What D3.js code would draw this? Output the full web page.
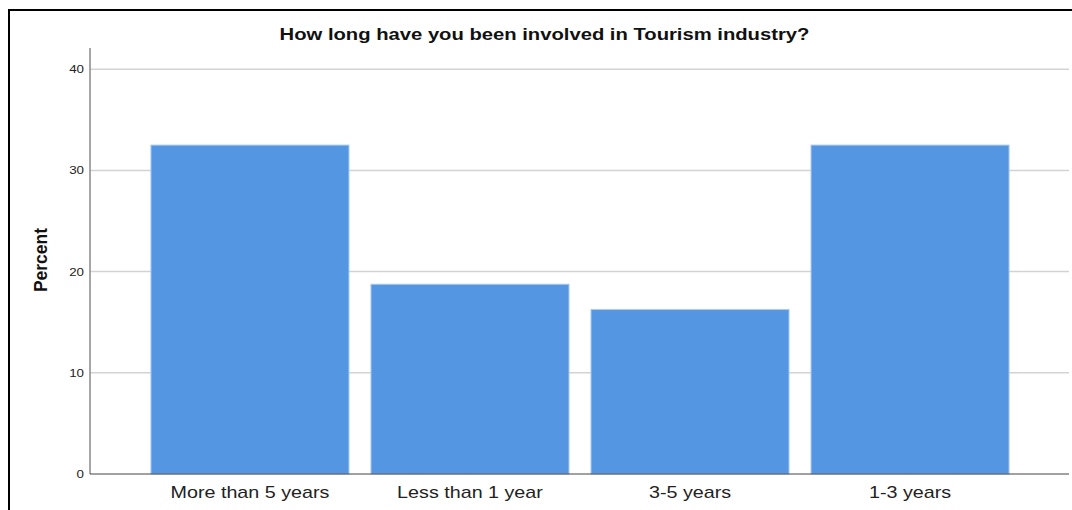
<!DOCTYPE html>
<html lang="en">
<head>
    <meta charset="UTF-8">
    <title>Tourism involvement</title>
    <script src="https://d3js.org/d3.v7.min.js"></script>
    <style>
        body { margin: 0; background: #ffffff; }
        text { font-family: "Liberation Sans", Arial, sans-serif; }
        .grid line { stroke: #d3d3d3; stroke-width: 1.5; }
        .bar { fill: #5596e3; stroke: #a9c9f1; stroke-width: 1; }
        .y-tick { font-size: 11.5px; fill: #222; }
        .x-label { font-size: 17px; fill: #222; }
    </style>
</head>
<body>
    <svg width="1072" height="510" id="chart"></svg>
    <script>
        // data
        const categories = ["More than 5 years", "Less than 1 year", "3-5 years", "1-3 years"];
        const percents = [32.5, 18.75, 16.25, 32.5];
        const yTicks = [0, 10, 20, 30, 40];

        const stretch = 1.16; // reference text is a bit wider than Arial

        const svg = d3.select("#chart");

        // outer frame (cropped at right/bottom)
        svg.append("rect")
            .attr("x", 9).attr("y", 10)
            .attr("width", 1080).attr("height", 520)
            .attr("fill", "none")
            .attr("stroke", "#000")
            .attr("stroke-width", 2);

        const x = d3.scaleBand()
            .domain(categories)
            .range([90, 1070])
            .paddingInner(0.1)
            .paddingOuter(0.277);

        const y = d3.scaleLinear()
            .domain([0, 40])
            .range([474, 69.2]);

        // gridlines
        svg.append("g")
            .attr("class", "grid")
            .selectAll("line")
            .data(yTicks.filter(d => d > 0))
            .join("line")
            .attr("x1", 90).attr("x2", 1069)
            .attr("y1", d => y(d)).attr("y2", d => y(d));

        // bars
        svg.append("g")
            .selectAll("rect")
            .data(percents)
            .join("rect")
            .attr("class", "bar")
            .attr("x", (d, i) => x(categories[i]))
            .attr("width", x.bandwidth())
            .attr("y", d => y(d))
            .attr("height", d => y(0) - y(d));

        // y axis
        svg.append("line")
            .attr("x1", 90).attr("x2", 90)
            .attr("y1", 48).attr("y2", 474)
            .attr("stroke", "#888").attr("stroke-width", 1.5);

        svg.append("g")
            .selectAll("text")
            .data(yTicks)
            .join("text")
            .attr("class", "y-tick")
            .attr("text-anchor", "end")
            .attr("transform", d => `translate(84,${y(d) + 4}) scale(${stretch},1)`)
            .text(d => d);

        // x axis
        svg.append("line")
            .attr("x1", 90).attr("x2", 1069)
            .attr("y1", 474).attr("y2", 474)
            .attr("stroke", "#444").attr("stroke-width", 1.2);

        svg.append("g")
            .selectAll("text")
            .data(categories)
            .join("text")
            .attr("class", "x-label")
            .attr("text-anchor", "middle")
            .attr("transform", d => `translate(${x(d) + x.bandwidth() / 2},498) scale(${stretch},1)`)
            .text(d => d);

        // title
        svg.append("text")
            .attr("transform", `translate(544.5,40) scale(1.19,1)`)
            .attr("text-anchor", "middle")
            .style("font-size", "17px")
            .style("font-weight", "bold")
            .style("fill", "#111")
            .text("How long have you been involved in Tourism industry?");

        // y label
        svg.append("text")
            .attr("transform", "translate(47,260) rotate(-90)")
            .attr("text-anchor", "middle")
            .style("font-size", "17.5px")
            .style("font-weight", "bold")
            .style("fill", "#111")
            .text("Percent");
    </script>
</body>
</html>
